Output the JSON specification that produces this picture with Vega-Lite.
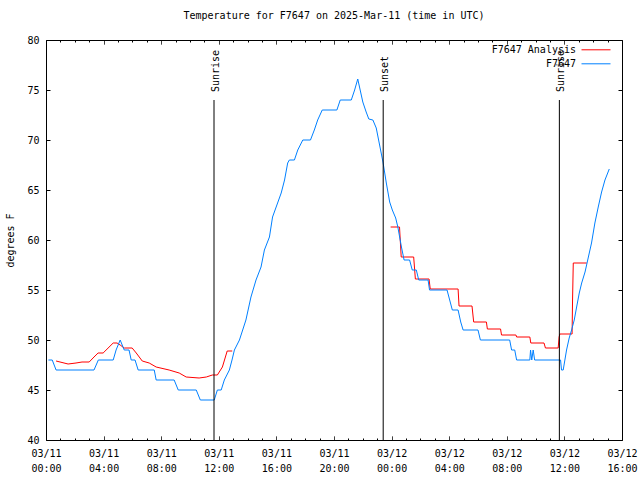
{
  "$schema": "https://vega.github.io/schema/vega-lite/v6.json",
  "width": 576,
  "height": 400,
  "autosize": "none",
  "padding": {"left": 46, "top": 40, "right": 18, "bottom": 40},
  "background": "white",
  "title": {"text": "Temperature for F7647 on 2025-Mar-11 (time in UTC)", "offset": 14, "anchor": "middle", "font": "DejaVu Sans Mono", "fontSize": 10, "fontWeight": "normal", "color": "black"},
  "config": {
    "view": {"stroke": "black", "strokeWidth": 1},
    "font": "DejaVu Sans Mono",
    "axis": {"domain": false, "grid": false, "tickColor": "black", "labelColor": "black", "labelFont": "DejaVu Sans Mono", "labelFontSize": 10, "titleFont": "DejaVu Sans Mono", "titleFontSize": 10, "titleFontWeight": "normal", "titleColor": "black", "labelFlush": false, "labelOverlap": false, "labelBound": false},
    "legend": {"labelFont": "DejaVu Sans Mono", "labelFontSize": 10, "labelColor": "black"}
  },
  "datasets": {
    "series": [
      {"time": "2025-03-11T00:42:00Z", "temp": 47.9, "series": "F7647 Analysis", "segment": "a1"},
      {"time": "2025-03-11T01:32:00Z", "temp": 47.6, "series": "F7647 Analysis", "segment": "a1"},
      {"time": "2025-03-11T02:05:00Z", "temp": 47.7, "series": "F7647 Analysis", "segment": "a1"},
      {"time": "2025-03-11T02:30:00Z", "temp": 47.8, "series": "F7647 Analysis", "segment": "a1"},
      {"time": "2025-03-11T03:00:00Z", "temp": 47.8, "series": "F7647 Analysis", "segment": "a1"},
      {"time": "2025-03-11T03:20:00Z", "temp": 48.3, "series": "F7647 Analysis", "segment": "a1"},
      {"time": "2025-03-11T03:37:00Z", "temp": 48.7, "series": "F7647 Analysis", "segment": "a1"},
      {"time": "2025-03-11T03:58:00Z", "temp": 48.7, "series": "F7647 Analysis", "segment": "a1"},
      {"time": "2025-03-11T04:40:00Z", "temp": 49.7, "series": "F7647 Analysis", "segment": "a1"},
      {"time": "2025-03-11T04:56:00Z", "temp": 49.7, "series": "F7647 Analysis", "segment": "a1"},
      {"time": "2025-03-11T05:09:00Z", "temp": 49.5, "series": "F7647 Analysis", "segment": "a1"},
      {"time": "2025-03-11T05:26:00Z", "temp": 49.2, "series": "F7647 Analysis", "segment": "a1"},
      {"time": "2025-03-11T05:59:00Z", "temp": 49.2, "series": "F7647 Analysis", "segment": "a1"},
      {"time": "2025-03-11T06:16:00Z", "temp": 48.7, "series": "F7647 Analysis", "segment": "a1"},
      {"time": "2025-03-11T06:41:00Z", "temp": 47.9, "series": "F7647 Analysis", "segment": "a1"},
      {"time": "2025-03-11T07:10:00Z", "temp": 47.7, "series": "F7647 Analysis", "segment": "a1"},
      {"time": "2025-03-11T07:39:00Z", "temp": 47.3, "series": "F7647 Analysis", "segment": "a1"},
      {"time": "2025-03-11T08:33:00Z", "temp": 47.0, "series": "F7647 Analysis", "segment": "a1"},
      {"time": "2025-03-11T09:15:00Z", "temp": 46.7, "series": "F7647 Analysis", "segment": "a1"},
      {"time": "2025-03-11T09:44:00Z", "temp": 46.3, "series": "F7647 Analysis", "segment": "a1"},
      {"time": "2025-03-11T10:38:00Z", "temp": 46.2, "series": "F7647 Analysis", "segment": "a1"},
      {"time": "2025-03-11T11:08:00Z", "temp": 46.3, "series": "F7647 Analysis", "segment": "a1"},
      {"time": "2025-03-11T11:33:00Z", "temp": 46.5, "series": "F7647 Analysis", "segment": "a1"},
      {"time": "2025-03-11T11:54:00Z", "temp": 46.5, "series": "F7647 Analysis", "segment": "a1"},
      {"time": "2025-03-11T12:15:00Z", "temp": 47.3, "series": "F7647 Analysis", "segment": "a1"},
      {"time": "2025-03-11T12:35:00Z", "temp": 48.9, "series": "F7647 Analysis", "segment": "a1"},
      {"time": "2025-03-11T12:56:00Z", "temp": 48.9, "series": "F7647 Analysis", "segment": "a1"},
      {"time": "2025-03-11T23:56:00Z", "temp": 61.3, "series": "F7647 Analysis", "segment": "a2"},
      {"time": "2025-03-12T00:33:00Z", "temp": 61.3, "series": "F7647 Analysis", "segment": "a2"},
      {"time": "2025-03-12T00:40:00Z", "temp": 58.3, "series": "F7647 Analysis", "segment": "a2"},
      {"time": "2025-03-12T01:32:00Z", "temp": 58.3, "series": "F7647 Analysis", "segment": "a2"},
      {"time": "2025-03-12T01:39:00Z", "temp": 56.1, "series": "F7647 Analysis", "segment": "a2"},
      {"time": "2025-03-12T02:36:00Z", "temp": 56.1, "series": "F7647 Analysis", "segment": "a2"},
      {"time": "2025-03-12T02:41:00Z", "temp": 55.1, "series": "F7647 Analysis", "segment": "a2"},
      {"time": "2025-03-12T04:37:00Z", "temp": 55.1, "series": "F7647 Analysis", "segment": "a2"},
      {"time": "2025-03-12T04:41:00Z", "temp": 53.4, "series": "F7647 Analysis", "segment": "a2"},
      {"time": "2025-03-12T05:35:00Z", "temp": 53.4, "series": "F7647 Analysis", "segment": "a2"},
      {"time": "2025-03-12T05:42:00Z", "temp": 51.8, "series": "F7647 Analysis", "segment": "a2"},
      {"time": "2025-03-12T06:35:00Z", "temp": 51.8, "series": "F7647 Analysis", "segment": "a2"},
      {"time": "2025-03-12T06:39:00Z", "temp": 51.1, "series": "F7647 Analysis", "segment": "a2"},
      {"time": "2025-03-12T07:34:00Z", "temp": 51.1, "series": "F7647 Analysis", "segment": "a2"},
      {"time": "2025-03-12T07:38:00Z", "temp": 50.5, "series": "F7647 Analysis", "segment": "a2"},
      {"time": "2025-03-12T08:38:00Z", "temp": 50.5, "series": "F7647 Analysis", "segment": "a2"},
      {"time": "2025-03-12T08:41:00Z", "temp": 50.3, "series": "F7647 Analysis", "segment": "a2"},
      {"time": "2025-03-12T09:36:00Z", "temp": 50.3, "series": "F7647 Analysis", "segment": "a2"},
      {"time": "2025-03-12T09:40:00Z", "temp": 49.7, "series": "F7647 Analysis", "segment": "a2"},
      {"time": "2025-03-12T10:35:00Z", "temp": 49.7, "series": "F7647 Analysis", "segment": "a2"},
      {"time": "2025-03-12T10:41:00Z", "temp": 49.2, "series": "F7647 Analysis", "segment": "a2"},
      {"time": "2025-03-12T11:34:00Z", "temp": 49.2, "series": "F7647 Analysis", "segment": "a2"},
      {"time": "2025-03-12T11:38:00Z", "temp": 50.3, "series": "F7647 Analysis", "segment": "a2"},
      {"time": "2025-03-12T11:41:00Z", "temp": 50.6, "series": "F7647 Analysis", "segment": "a2"},
      {"time": "2025-03-12T12:32:00Z", "temp": 50.6, "series": "F7647 Analysis", "segment": "a2"},
      {"time": "2025-03-12T12:34:00Z", "temp": 54.0, "series": "F7647 Analysis", "segment": "a2"},
      {"time": "2025-03-12T12:37:00Z", "temp": 57.7, "series": "F7647 Analysis", "segment": "a2"},
      {"time": "2025-03-12T13:33:00Z", "temp": 57.7, "series": "F7647 Analysis", "segment": "a2"},
      {"time": "2025-03-11T00:10:00Z", "temp": 48, "series": "F7647", "segment": "o"},
      {"time": "2025-03-11T00:26:00Z", "temp": 48, "series": "F7647", "segment": "o"},
      {"time": "2025-03-11T00:42:00Z", "temp": 47, "series": "F7647", "segment": "o"},
      {"time": "2025-03-11T03:20:00Z", "temp": 47, "series": "F7647", "segment": "o"},
      {"time": "2025-03-11T03:38:00Z", "temp": 48, "series": "F7647", "segment": "o"},
      {"time": "2025-03-11T04:40:00Z", "temp": 48, "series": "F7647", "segment": "o"},
      {"time": "2025-03-11T04:52:00Z", "temp": 49, "series": "F7647", "segment": "o"},
      {"time": "2025-03-11T05:09:00Z", "temp": 50, "series": "F7647", "segment": "o"},
      {"time": "2025-03-11T05:26:00Z", "temp": 49, "series": "F7647", "segment": "o"},
      {"time": "2025-03-11T05:46:00Z", "temp": 49, "series": "F7647", "segment": "o"},
      {"time": "2025-03-11T05:55:00Z", "temp": 48, "series": "F7647", "segment": "o"},
      {"time": "2025-03-11T06:11:00Z", "temp": 48, "series": "F7647", "segment": "o"},
      {"time": "2025-03-11T06:24:00Z", "temp": 47, "series": "F7647", "segment": "o"},
      {"time": "2025-03-11T07:31:00Z", "temp": 47, "series": "F7647", "segment": "o"},
      {"time": "2025-03-11T07:39:00Z", "temp": 46, "series": "F7647", "segment": "o"},
      {"time": "2025-03-11T08:54:00Z", "temp": 46, "series": "F7647", "segment": "o"},
      {"time": "2025-03-11T09:11:00Z", "temp": 45, "series": "F7647", "segment": "o"},
      {"time": "2025-03-11T10:26:00Z", "temp": 45, "series": "F7647", "segment": "o"},
      {"time": "2025-03-11T10:43:00Z", "temp": 44, "series": "F7647", "segment": "o"},
      {"time": "2025-03-11T11:41:00Z", "temp": 44, "series": "F7647", "segment": "o"},
      {"time": "2025-03-11T11:54:00Z", "temp": 45, "series": "F7647", "segment": "o"},
      {"time": "2025-03-11T12:10:00Z", "temp": 45, "series": "F7647", "segment": "o"},
      {"time": "2025-03-11T12:23:00Z", "temp": 46, "series": "F7647", "segment": "o"},
      {"time": "2025-03-11T12:44:00Z", "temp": 47, "series": "F7647", "segment": "o"},
      {"time": "2025-03-11T12:55:00Z", "temp": 48, "series": "F7647", "segment": "o"},
      {"time": "2025-03-11T13:05:00Z", "temp": 49, "series": "F7647", "segment": "o"},
      {"time": "2025-03-11T13:26:00Z", "temp": 50, "series": "F7647", "segment": "o"},
      {"time": "2025-03-11T13:53:00Z", "temp": 52, "series": "F7647", "segment": "o"},
      {"time": "2025-03-11T14:14:00Z", "temp": 54.3, "series": "F7647", "segment": "o"},
      {"time": "2025-03-11T14:35:00Z", "temp": 56, "series": "F7647", "segment": "o"},
      {"time": "2025-03-11T14:56:00Z", "temp": 57.3, "series": "F7647", "segment": "o"},
      {"time": "2025-03-11T15:10:00Z", "temp": 59, "series": "F7647", "segment": "o"},
      {"time": "2025-03-11T15:31:00Z", "temp": 60.3, "series": "F7647", "segment": "o"},
      {"time": "2025-03-11T15:44:00Z", "temp": 62.3, "series": "F7647", "segment": "o"},
      {"time": "2025-03-11T16:05:00Z", "temp": 63.7, "series": "F7647", "segment": "o"},
      {"time": "2025-03-11T16:20:00Z", "temp": 64.7, "series": "F7647", "segment": "o"},
      {"time": "2025-03-11T16:34:00Z", "temp": 66, "series": "F7647", "segment": "o"},
      {"time": "2025-03-11T16:47:00Z", "temp": 67.7, "series": "F7647", "segment": "o"},
      {"time": "2025-03-11T16:54:00Z", "temp": 68, "series": "F7647", "segment": "o"},
      {"time": "2025-03-11T17:15:00Z", "temp": 68, "series": "F7647", "segment": "o"},
      {"time": "2025-03-11T17:29:00Z", "temp": 69, "series": "F7647", "segment": "o"},
      {"time": "2025-03-11T17:50:00Z", "temp": 70, "series": "F7647", "segment": "o"},
      {"time": "2025-03-11T18:22:00Z", "temp": 70, "series": "F7647", "segment": "o"},
      {"time": "2025-03-11T18:38:00Z", "temp": 71, "series": "F7647", "segment": "o"},
      {"time": "2025-03-11T18:52:00Z", "temp": 72, "series": "F7647", "segment": "o"},
      {"time": "2025-03-11T19:11:00Z", "temp": 73, "series": "F7647", "segment": "o"},
      {"time": "2025-03-11T20:12:00Z", "temp": 73, "series": "F7647", "segment": "o"},
      {"time": "2025-03-11T20:26:00Z", "temp": 74, "series": "F7647", "segment": "o"},
      {"time": "2025-03-11T21:12:00Z", "temp": 74, "series": "F7647", "segment": "o"},
      {"time": "2025-03-11T21:26:00Z", "temp": 75, "series": "F7647", "segment": "o"},
      {"time": "2025-03-11T21:39:00Z", "temp": 76.1, "series": "F7647", "segment": "o"},
      {"time": "2025-03-11T22:00:00Z", "temp": 73.8, "series": "F7647", "segment": "o"},
      {"time": "2025-03-11T22:14:00Z", "temp": 72.8, "series": "F7647", "segment": "o"},
      {"time": "2025-03-11T22:25:00Z", "temp": 72.1, "series": "F7647", "segment": "o"},
      {"time": "2025-03-11T22:42:00Z", "temp": 72, "series": "F7647", "segment": "o"},
      {"time": "2025-03-11T22:56:00Z", "temp": 71.2, "series": "F7647", "segment": "o"},
      {"time": "2025-03-11T23:10:00Z", "temp": 69.5, "series": "F7647", "segment": "o"},
      {"time": "2025-03-11T23:24:00Z", "temp": 67.8, "series": "F7647", "segment": "o"},
      {"time": "2025-03-11T23:38:00Z", "temp": 65.7, "series": "F7647", "segment": "o"},
      {"time": "2025-03-11T23:52:00Z", "temp": 63.8, "series": "F7647", "segment": "o"},
      {"time": "2025-03-12T00:03:00Z", "temp": 63, "series": "F7647", "segment": "o"},
      {"time": "2025-03-12T00:17:00Z", "temp": 62.2, "series": "F7647", "segment": "o"},
      {"time": "2025-03-12T00:26:00Z", "temp": 61.3, "series": "F7647", "segment": "o"},
      {"time": "2025-03-12T00:41:00Z", "temp": 59.3, "series": "F7647", "segment": "o"},
      {"time": "2025-03-12T00:52:00Z", "temp": 58, "series": "F7647", "segment": "o"},
      {"time": "2025-03-12T01:15:00Z", "temp": 58, "series": "F7647", "segment": "o"},
      {"time": "2025-03-12T01:26:00Z", "temp": 57, "series": "F7647", "segment": "o"},
      {"time": "2025-03-12T01:43:00Z", "temp": 57, "series": "F7647", "segment": "o"},
      {"time": "2025-03-12T01:53:00Z", "temp": 56, "series": "F7647", "segment": "o"},
      {"time": "2025-03-12T02:32:00Z", "temp": 56, "series": "F7647", "segment": "o"},
      {"time": "2025-03-12T02:38:00Z", "temp": 55, "series": "F7647", "segment": "o"},
      {"time": "2025-03-12T03:51:00Z", "temp": 55, "series": "F7647", "segment": "o"},
      {"time": "2025-03-12T04:02:00Z", "temp": 54, "series": "F7647", "segment": "o"},
      {"time": "2025-03-12T04:13:00Z", "temp": 53, "series": "F7647", "segment": "o"},
      {"time": "2025-03-12T04:37:00Z", "temp": 53, "series": "F7647", "segment": "o"},
      {"time": "2025-03-12T04:48:00Z", "temp": 51.8, "series": "F7647", "segment": "o"},
      {"time": "2025-03-12T04:58:00Z", "temp": 51, "series": "F7647", "segment": "o"},
      {"time": "2025-03-12T06:00:00Z", "temp": 51, "series": "F7647", "segment": "o"},
      {"time": "2025-03-12T06:10:00Z", "temp": 50, "series": "F7647", "segment": "o"},
      {"time": "2025-03-12T08:12:00Z", "temp": 50, "series": "F7647", "segment": "o"},
      {"time": "2025-03-12T08:20:00Z", "temp": 49, "series": "F7647", "segment": "o"},
      {"time": "2025-03-12T08:33:00Z", "temp": 49, "series": "F7647", "segment": "o"},
      {"time": "2025-03-12T08:41:00Z", "temp": 48, "series": "F7647", "segment": "o"},
      {"time": "2025-03-12T09:36:00Z", "temp": 48, "series": "F7647", "segment": "o"},
      {"time": "2025-03-12T09:39:00Z", "temp": 49, "series": "F7647", "segment": "o"},
      {"time": "2025-03-12T09:44:00Z", "temp": 48, "series": "F7647", "segment": "o"},
      {"time": "2025-03-12T09:50:00Z", "temp": 49, "series": "F7647", "segment": "o"},
      {"time": "2025-03-12T09:56:00Z", "temp": 48, "series": "F7647", "segment": "o"},
      {"time": "2025-03-12T11:44:00Z", "temp": 48, "series": "F7647", "segment": "o"},
      {"time": "2025-03-12T11:48:00Z", "temp": 47, "series": "F7647", "segment": "o"},
      {"time": "2025-03-12T11:55:00Z", "temp": 47, "series": "F7647", "segment": "o"},
      {"time": "2025-03-12T12:02:00Z", "temp": 48, "series": "F7647", "segment": "o"},
      {"time": "2025-03-12T12:09:00Z", "temp": 49, "series": "F7647", "segment": "o"},
      {"time": "2025-03-12T12:20:00Z", "temp": 50.2, "series": "F7647", "segment": "o"},
      {"time": "2025-03-12T12:30:00Z", "temp": 51, "series": "F7647", "segment": "o"},
      {"time": "2025-03-12T12:41:00Z", "temp": 52, "series": "F7647", "segment": "o"},
      {"time": "2025-03-12T12:51:00Z", "temp": 53.3, "series": "F7647", "segment": "o"},
      {"time": "2025-03-12T13:02:00Z", "temp": 54.7, "series": "F7647", "segment": "o"},
      {"time": "2025-03-12T13:12:00Z", "temp": 55.7, "series": "F7647", "segment": "o"},
      {"time": "2025-03-12T13:26:00Z", "temp": 56.8, "series": "F7647", "segment": "o"},
      {"time": "2025-03-12T13:39:00Z", "temp": 58.2, "series": "F7647", "segment": "o"},
      {"time": "2025-03-12T13:53:00Z", "temp": 59.7, "series": "F7647", "segment": "o"},
      {"time": "2025-03-12T14:07:00Z", "temp": 61.7, "series": "F7647", "segment": "o"},
      {"time": "2025-03-12T14:21:00Z", "temp": 63.3, "series": "F7647", "segment": "o"},
      {"time": "2025-03-12T14:35:00Z", "temp": 64.8, "series": "F7647", "segment": "o"},
      {"time": "2025-03-12T14:49:00Z", "temp": 66, "series": "F7647", "segment": "o"},
      {"time": "2025-03-12T15:07:00Z", "temp": 67.1, "series": "F7647", "segment": "o"}
    ],
    "events": [
      {"time": "2025-03-11T11:40:00Z", "label": "Sunrise"},
      {"time": "2025-03-11T23:25:00Z", "label": "Sunset"},
      {"time": "2025-03-12T11:39:00Z", "label": "Sunrise"}
    ]
  },
  "resolve": {"axis": {"x": "independent", "y": "independent"}},
  "layer": [
    {
      "data": {"name": "series"},
      "mark": {"type": "line", "strokeWidth": 1, "interpolate": "linear"},
      "encoding": {
        "x": {"field": "time", "type": "temporal",
              "scale": {"type": "utc", "domain": [1741651200000, 1741795200000]},
              "axis": {"orient": "bottom", "title": null, "tickSize": -4,
                       "values": [1741651200000, 1741654800000, 1741658400000, 1741662000000, 1741665600000, 1741669200000, 1741672800000, 1741676400000, 1741680000000, 1741683600000, 1741687200000, 1741690800000, 1741694400000, 1741698000000, 1741701600000, 1741705200000, 1741708800000, 1741712400000, 1741716000000, 1741719600000, 1741723200000, 1741726800000, 1741730400000, 1741734000000, 1741737600000, 1741741200000, 1741744800000, 1741748400000, 1741752000000, 1741755600000, 1741759200000, 1741762800000, 1741766400000, 1741770000000, 1741773600000, 1741777200000, 1741780800000, 1741784400000, 1741788000000, 1741791600000, 1741795200000],
                       "tickDash": {"condition": {"test": "utchours(datum.value) % 4 !== 0", "value": [2, 10]}, "value": [1, 0]},
                       "labelExpr": "utchours(datum.value) % 4 === 0 ? [utcFormat(datum.value, '%m/%d'), utcFormat(datum.value, '%H:%M')] : ''",
                       "labelBaseline": "top", "labelAlign": "center", "labelLineHeight": 15, "labelPadding": 12}},
        "y": {"field": "temp", "type": "quantitative",
              "scale": {"domain": [40, 80], "nice": false, "zero": false},
              "axis": {"orient": "left", "title": "degrees F", "values": [40, 45, 50, 55, 60, 65, 70, 75, 80], "tickSize": -4, "labelPadding": 11, "titlePadding": 11}},
        "color": {"field": "series", "type": "nominal",
                  "scale": {"domain": ["F7647 Analysis", "F7647"], "range": ["#ff0000", "#0080ff"]},
                  "legend": {"title": null, "orient": "none", "legendX": 544.5, "legendY": 4.3, "padding": 0,
                             "symbolType": "M-2.9,0H2.9", "symbolSize": 100, "symbolStrokeWidth": 1,
                             "labelAlign": "right", "labelOffset": -25.5, "rowPadding": 3}},
        "detail": {"field": "segment", "type": "nominal"}
      }
    },
    {
      "data": {"name": "events"},
      "mark": {"type": "rule", "color": "black", "strokeWidth": 1},
      "encoding": {
        "x": {"field": "time", "type": "temporal",
              "axis": {"orient": "top", "title": null, "labels": false, "tickSize": -4,
                       "values": [1741651200000, 1741654800000, 1741658400000, 1741662000000, 1741665600000, 1741669200000, 1741672800000, 1741676400000, 1741680000000, 1741683600000, 1741687200000, 1741690800000, 1741694400000, 1741698000000, 1741701600000, 1741705200000, 1741708800000, 1741712400000, 1741716000000, 1741719600000, 1741723200000, 1741726800000, 1741730400000, 1741734000000, 1741737600000, 1741741200000, 1741744800000, 1741748400000, 1741752000000, 1741755600000, 1741759200000, 1741762800000, 1741766400000, 1741770000000, 1741773600000, 1741777200000, 1741780800000, 1741784400000, 1741788000000, 1741791600000, 1741795200000],
                       "tickDash": {"condition": {"test": "utchours(datum.value) % 4 !== 0", "value": [2, 10]}, "value": [1, 0]}}},
        "y": {"datum": 40, "type": "quantitative",
              "axis": {"orient": "right", "title": null, "labels": false, "values": [40, 45, 50, 55, 60, 65, 70, 75, 80], "tickSize": -4}},
        "y2": {"datum": 74}
      }
    },
    {
      "data": {"name": "events"},
      "mark": {"type": "text", "angle": 270, "align": "left", "baseline": "middle", "dy": 2, "font": "DejaVu Sans Mono", "fontSize": 10, "color": "black"},
      "encoding": {
        "x": {"field": "time", "type": "temporal", "axis": null},
        "y": {"datum": 74.8, "type": "quantitative", "axis": null},
        "text": {"field": "label"}
      }
    }
  ]
}
